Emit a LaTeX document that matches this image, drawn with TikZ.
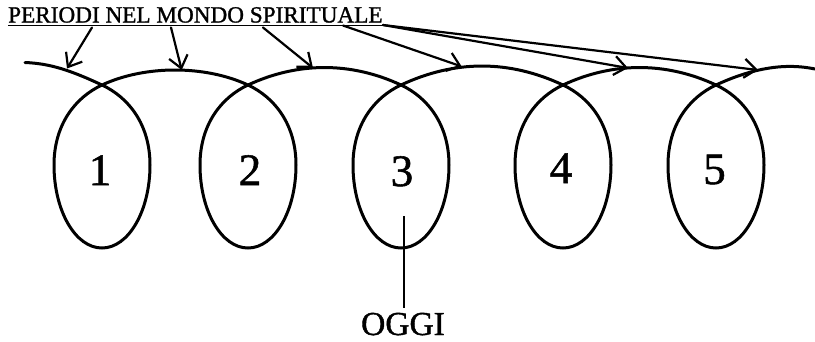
\documentclass[tikz,border=0pt]{standalone}
\usepackage{fontspec}
\setmainfont{Liberation Serif}
\newfontfamily\scanfont[FakeBold=1.2]{Liberation Serif}
\usetikzlibrary{arrows.meta}
\tikzset{
  coil/.style={line width=3pt, line cap=round, line join=round},
  pointer/.style={line width=2.2pt, line cap=round, -{Straight Barb[length=12pt,width=19pt]}},
  digit/.style={font=\scanfont\fontsize{45}{45}\selectfont, anchor=base, inner sep=0pt},
  titletext/.style={font=\scanfont\fontsize{23.2}{27}\selectfont, anchor=base west, inner sep=0pt},
  todaytext/.style={font=\scanfont\fontsize{33.5}{36}\selectfont, anchor=base, inner sep=0pt},
  marker/.style={line width=2pt}
}
\begin{document}
\begin{tikzpicture}[x=1pt,y=-1pt]
\useasboundingbox (0,0) rectangle (815,341);
% coil
\draw[coil] (25,62.5) .. controls (50,63.5) and (70.3,70.2) .. (102,85)
  \foreach \c/\o/\h/\n in {102/43/65/248, 248/50/61.7/401, 401/54/59.7/563, 563/50/61.7/716} {
    .. controls ({\c+27.2},97.7) and ({\c+48},125) .. ({\c+48},165)
    .. controls ({\c+48},211) and ({\c+26.5},248) .. (\c,248)
    .. controls ({\c-26.5},248) and ({\c-48},211) .. ({\c-48},165)
    .. controls ({\c-48},125) and ({\c-27.2},97.7) .. (\c,85)
    .. controls ({\c+\o},\h) and ({\n-\o},\h) .. (\n,85)
  }
  .. controls (743.2,97.7) and (764,125) .. (764,165)
  .. controls (764,211) and (742.5,248) .. (716,248)
  .. controls (689.5,248) and (668,211) .. (668,165)
  .. controls (668,125) and (688.8,97.7) .. (716,85)
  .. controls (767.5,61) and (800,66) .. (815,69);
% digits
\node[digit] (d1) at (100,185) {1};
\node[digit] (d2) at (250,185) {2};
\node[digit] (d3) at (402,186) {3};
\node[digit] (d4) at (561,183) {4};
\node[digit] (d5) at (714.5,184) {5};
% title
\node[titletext] (title) at (8,22.5) {PERIODI NEL MONDO SPIRITUALE};
\draw[line width=1pt] ([yshift=-2.5pt]title.base west) -- ([yshift=-2.5pt]title.base east);
% arrow coordinates
\coordinate (s1) at (92,27.5);
\coordinate (s2) at (171,27.5);
\coordinate (s3) at (263,27.5);
\coordinate (s4) at (343,25.5);
\coordinate (s5) at (383,25);
\coordinate (t1) at (67,68.5);
\coordinate (t2) at (181.7,70);
\coordinate (t3) at (313,68);
\coordinate (t4) at (461.7,66.5);
\coordinate (t5) at (628,68);
\coordinate (t6) at (758,70);
\draw[pointer] (s1) -- (t1);
\draw[pointer] (s2) -- (t2);
\draw[pointer] (s3) -- (t3);
\draw[pointer] (s4) -- (t4);
\draw[pointer] (s5) -- (t5);
\draw[pointer] (s5) -- (t6);
% today
\node[todaytext] (oggi) at (403,335) {OGGI};
\coordinate (m3) at (404,216);
\draw[marker] (m3) -- ([yshift=5pt]oggi.north -| m3);
\end{tikzpicture}
\end{document}
